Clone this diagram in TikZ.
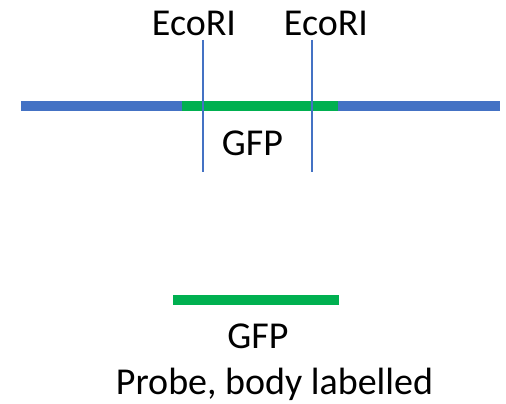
\documentclass[tikz,border=0pt]{standalone}
\usepackage{fontspec}
\setmainfont{Carlito}
\definecolor{dnablue}{HTML}{4472C4}
\definecolor{gfpgreen}{HTML}{00B050}
\begin{document}
\begin{tikzpicture}[x=1pt,y=-1pt,
  lbl/.style={font=\fontsize{38}{44}\selectfont, anchor=base, inner sep=0pt},
  dna/.style={line width=10pt, dnablue},
  gfp/.style={line width=10pt, gfpgreen},
  site/.style={line width=2pt, dnablue}]
\useasboundingbox (0,0) rectangle (506,404);
\coordinate (l0) at (21,106);
\coordinate (l1) at (182,106);
\coordinate (g0) at (178,106);
\coordinate (g1) at (339,106);
\coordinate (r0) at (338,106);
\coordinate (r1) at (500,106);
\draw[gfp] (g0) -- (g1);
\draw[dna] (l0) -- (l1);
\draw[dna] (r0) -- (r1);
\coordinate (s1t) at (203,40);
\coordinate (s1b) at (203,172);
\coordinate (s2t) at (312,40);
\coordinate (s2b) at (312,172);
\draw[site] (s1t) -- (s1b);
\draw[site] (s2t) -- (s2b);
\node[lbl] (e1) at (194,36) {EcoRI};
\node[lbl] (e2) at (326,36) {EcoRI};
\node[lbl] (gfp1) at (252.5,155) {GFP};
\coordinate (p0) at (173,300);
\coordinate (p1) at (339,300);
\draw[gfp] (p0) -- (p1);
\node[lbl] (gfp2) at (258,348) {GFP};
\node[lbl] (probe) at (274.5,394) {Probe, body labelled};
\end{tikzpicture}
\end{document}
